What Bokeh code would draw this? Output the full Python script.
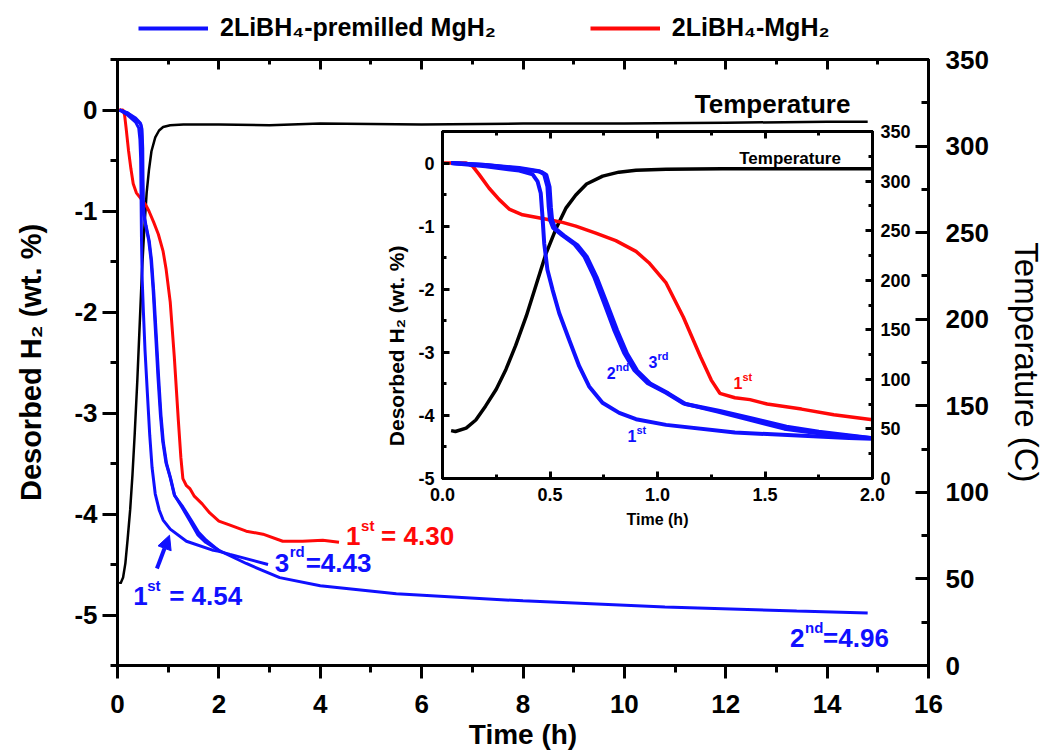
from bokeh.plotting import figure
from bokeh.models import (Range1d, LinearAxis, SingleIntervalTicker, Legend, LegendItem,
                          Label, Arrow, NormalHead, PrintfTickFormatter)
from bokeh.embed import file_html
from bokeh.resources import INLINE

# ---------------- data ----------------
# Temperature (C) vs time (h)
t_temp = [0.04, 0.06, 0.11, 0.155, 0.20, 0.25, 0.295, 0.34, 0.39, 0.435, 0.48, 0.53, 0.575,
          0.62, 0.67, 0.745, 0.82, 0.90, 1.04, 1.3, 2.0, 3.0, 4.0, 6.0, 8.0, 10.0, 12.0, 14.0, 14.8]
temp = [48.3, 47.4, 50.8, 59, 73, 90, 110, 134, 164, 195, 226, 253, 273,
        286, 297, 305, 309, 311, 312, 312.5, 312.5, 312, 313, 312.5, 313, 313, 313.5, 314, 314]

# 2LiBH4-MgH2, 1st cycle (red)
t_red = [0.0, 0.11, 0.14, 0.17, 0.217, 0.264, 0.31, 0.372, 0.434, 0.496, 0.558, 0.62, 0.713,
         0.806, 0.90, 0.96, 1.04, 1.12, 1.20, 1.25, 1.29, 1.36, 1.43, 1.51, 1.67, 1.82, 2.0,
         2.22, 2.54, 2.87, 3.26, 3.65, 4.05, 4.37]
h2_red = [0.0, 0.0, -0.05, -0.18, -0.40, -0.58, -0.73, -0.82, -0.86, -0.90, -0.94, -1.0, -1.11,
          -1.23, -1.40, -1.58, -1.90, -2.44, -3.07, -3.44, -3.65, -3.72, -3.75, -3.82, -3.90, -3.99, -4.07,
          -4.11, -4.17, -4.20, -4.27, -4.27, -4.26, -4.28]

# 2LiBH4-premilled MgH2, 1st cycle (blue)
t_b1 = [0.04, 0.2, 0.357, 0.419, 0.442, 0.457, 0.465, 0.473, 0.488, 0.512, 0.543, 0.589, 0.636,
        0.682, 0.744, 0.822, 0.90, 1.04, 1.36, 1.89, 2.0, 2.22, 2.97]
h2_b1 = [0.0, -0.05, -0.12, -0.18, -0.29, -0.48, -0.85, -1.27, -1.69, -2.01, -2.38, -2.80, -3.22,
         -3.54, -3.80, -3.96, -4.06, -4.15, -4.27, -4.36, -4.37, -4.40, -4.50]

# 2nd cycle (blue, long run)
t_b2 = [0.04, 0.2, 0.357, 0.45, 0.473, 0.488, 0.494, 0.50, 0.515, 0.555, 0.615, 0.66, 0.705,
        0.752, 0.798, 0.845, 0.892, 0.955, 1.04, 1.12, 1.28, 1.43, 1.59, 1.74, 2.0, 2.54, 3.2,
        4.0, 5.5, 8.0, 10.8, 13.4, 14.8]
h2_b2 = [0.0, -0.03, -0.08, -0.13, -0.18, -0.37, -0.69, -0.90, -1.03, -1.14, -1.29, -1.48, -1.80,
         -2.22, -2.64, -3.01, -3.28, -3.49, -3.64, -3.81, -3.94, -4.07, -4.21, -4.28, -4.36, -4.49, -4.63,
         -4.71, -4.79, -4.86, -4.92, -4.96, -4.98]

# 3rd cycle (blue)
t_b3 = [0.04, 0.2, 0.357, 0.46, 0.483, 0.498, 0.504, 0.51, 0.525, 0.565, 0.627, 0.672, 0.717,
        0.765, 0.812, 0.858, 0.905, 0.968, 1.05, 1.13, 1.29, 1.44, 1.60, 1.75, 2.02]
h2_b3 = [0.0, -0.03, -0.09, -0.14, -0.19, -0.38, -0.70, -0.91, -1.04, -1.15, -1.30, -1.49, -1.81,
         -2.23, -2.65, -3.02, -3.29, -3.50, -3.65, -3.82, -3.93, -4.05, -4.18, -4.26, -4.37]

legend_labels = ["2LiBH\u2084-premilled MgH\u2082", "2LiBH\u2084-MgH\u2082"]
h2_tick_labels = {0: "0", -1: "-1", -2: "-2", -3: "-3", -4: "-4", -5: "-5"}

FONT = "Liberation Sans"
BLUE = "#1010ff"
RED = "#ff0808"
NB = "\u00a0"


def style_axis(ax, label_px, mj_in, mj_out, mn_in, mn_out, standoff, lw=3):
    ax.axis_line_width = lw
    ax.axis_line_color = "black"
    ax.major_tick_line_width = lw
    ax.minor_tick_line_width = lw
    ax.major_tick_in = mj_in
    ax.major_tick_out = mj_out
    ax.minor_tick_in = mn_in
    ax.minor_tick_out = mn_out
    ax.major_label_text_font = FONT
    ax.major_label_text_font_style = "bold"
    ax.major_label_text_font_size = f"{label_px}px"
    ax.major_label_text_color = "black"
    ax.major_label_standoff = standoff
    ax.axis_label_text_font = FONT
    ax.axis_label_text_font_style = "bold"
    ax.axis_label_text_color = "black"


def rich(fig, x, y, parts, color, y_range_name="default"):
    for text, size, dx, dy in parts:
        fig.add_layout(Label(x=x, y=y, x_offset=dx, y_offset=dy, text=text,
                             text_font=FONT, text_font_style="bold",
                             text_font_size=f"{size}px", text_color=color,
                             text_baseline="middle", text_align="left",
                             y_range_name=y_range_name))


# ---------------- main figure ----------------
p = figure(width=1047, height=756, x_range=Range1d(0, 16), y_range=Range1d(-5.5, 0.5),
           output_backend="svg", toolbar_location=None,
           min_border_left=117, min_border_right=114, min_border_top=59, min_border_bottom=91)
p.extra_y_ranges = {"temp": Range1d(0, 350)}
p.xgrid.visible = False
p.ygrid.visible = False
p.outline_line_color = "black"
p.outline_line_width = 3
p.background_fill_color = "white"
p.border_fill_color = "white"

xa = p.xaxis[0]
xa.ticker = SingleIntervalTicker(interval=2, num_minor_ticks=2)
style_axis(xa, 26, 0, 13, 0, 7, 16)
xa.axis_label = "Time (h)"
xa.axis_label_text_font_size = "28px"
xa.axis_label_standoff = 3

ya = p.yaxis[0]
ya.ticker = SingleIntervalTicker(interval=1, num_minor_ticks=2)
style_axis(ya, 26, 0, 15, 0, 7, 5)
ya.major_label_overrides = h2_tick_labels
ya.axis_label = "Desorbed H\u2082 (wt. %)"
ya.axis_label_text_font_size = "29px"
ya.axis_label_standoff = 24

top = LinearAxis(ticker=SingleIntervalTicker(interval=2, num_minor_ticks=2))
style_axis(top, 1, 10, 0, 5, 0, 0)
top.major_label_text_color = None
p.add_layout(top, "above")

ra = LinearAxis(y_range_name="temp", ticker=SingleIntervalTicker(interval=50, num_minor_ticks=2))
style_axis(ra, 26, 13, 0, 7, 0, 17)
ra.axis_label = "Temperature (C)"
ra.axis_label_text_font_style = "normal"
ra.axis_label_text_font_size = "33px"
ra.axis_label_standoff = 16
p.add_layout(ra, "right")

p.line(t_temp, temp, y_range_name="temp", line_color="black", line_width=2.5)
p.line(t_red, h2_red, line_color=RED, line_width=3)
p.line(t_b1, h2_b1, line_color=BLUE, line_width=3)
p.line(t_b3, h2_b3, line_color=BLUE, line_width=3)
p.line(t_b2, h2_b2, line_color=BLUE, line_width=3)

rich(p, 11.39, 0.064, [("Temperature", 26, 0, 0)], "black")
rich(p, t_red[-1] + 0.14, -4.22, [("1", 26, 0, 0), ("st", 15, 15, 11), ("= 4.30", 26, 35, 0)], RED)
rich(p, 3.10, -4.485, [("3", 26, 0, 0), ("rd", 15, 15, 11), ("=4.43", 26, 31, 0)], BLUE)
rich(p, 0.31, -4.815, [("1", 26, 0, 0), ("st", 15, 14, 11), ("= 4.54", 26, 36, 0)], BLUE)
rich(p, 13.27, -5.23, [("2", 26, 0, 0), ("nd", 15, 15, 11), ("=4.96", 26, 33, 0)], BLUE)
p.add_layout(Arrow(end=NormalHead(size=14, fill_color=BLUE, line_color=BLUE),
                   x_start=0.778, y_start=-4.54, x_end=1.026, y_end=-4.21,
                   line_color=BLUE, line_width=4))

# ---------------- legend strip (separate root, laid over the top margin) ----------------
lg = figure(width=900, height=52, x_range=Range1d(0, 1), y_range=Range1d(10, 11),
            output_backend="svg", toolbar_location=None, min_border=0,
            x_axis_type=None, y_axis_type=None)
lg.xgrid.visible = False
lg.ygrid.visible = False
lg.outline_line_color = None
lg.background_fill_color = None
lg.border_fill_color = None
lg.styles = {"position": "absolute", "left": "0px", "top": "0px"}
lb = lg.line(t_b2, h2_b2, line_color=BLUE, line_width=4)
lr = lg.line(t_red, h2_red, line_color=RED, line_width=4)
legend = Legend(items=[LegendItem(label=legend_labels[0], renderers=[lb]),
                       LegendItem(label=legend_labels[1], renderers=[lr])],
                location=(138, 10), orientation="horizontal", glyph_width=70, glyph_height=20,
                label_standoff=12, spacing=94, padding=0, margin=0,
                border_line_color=None, background_fill_alpha=0,
                label_text_font=FONT, label_text_font_style="bold", label_text_font_size="25px",
                label_text_color="black")
lg.add_layout(legend)

# ---------------- inset ----------------
q = figure(width=547, height=417, x_range=Range1d(0, 2), y_range=Range1d(-5, 0.5),
           output_backend="svg", toolbar_location=None,
           min_border_left=72, min_border_right=45, min_border_top=13, min_border_bottom=57)
q.extra_y_ranges = {"temp": Range1d(0, 350)}
q.xgrid.visible = False
q.ygrid.visible = False
q.outline_line_color = "black"
q.outline_line_width = 3
q.background_fill_color = "white"
q.border_fill_color = None
q.styles = {"position": "absolute", "left": "370px", "top": "118px"}

qx = q.xaxis[0]
qx.ticker = SingleIntervalTicker(interval=0.5, num_minor_ticks=2)
qx.formatter = PrintfTickFormatter(format="%.1f")
style_axis(qx, 18, 7, 0, 4, 0, 9)
qx.axis_label = "Time (h)"
qx.axis_label_text_font_size = "16px"
qx.axis_label_standoff = 7

qy = q.yaxis[0]
qy.ticker = SingleIntervalTicker(interval=1, num_minor_ticks=2)
style_axis(qy, 18, 7, 0, 4, 0, 8)
qy.major_label_overrides = h2_tick_labels
qy.axis_label = "Desorbed H\u2082 (wt. %)" + NB * 14
qy.axis_label_text_font_size = "21px"
qy.axis_label_standoff = 7

qt = LinearAxis(ticker=SingleIntervalTicker(interval=0.5, num_minor_ticks=2))
style_axis(qt, 1, 7, 0, 4, 0, 0)
qt.major_label_text_color = None
q.add_layout(qt, "above")

qr = LinearAxis(y_range_name="temp", ticker=SingleIntervalTicker(interval=50, num_minor_ticks=2))
style_axis(qr, 18, 7, 0, 4, 0, 8)
q.add_layout(qr, "right")

q.line(t_temp, temp, y_range_name="temp", line_color="black", line_width=3.5)
q.line(t_red, h2_red, line_color=RED, line_width=3.5)
q.line(t_b1, h2_b1, line_color=BLUE, line_width=4)
q.line(t_b3, h2_b3, line_color=BLUE, line_width=4)
q.line(t_b2, h2_b2, line_color=BLUE, line_width=4)

rich(q, 1.38, 0.07, [("Temperature", 17, 0, 0)], "black")
rich(q, 0.764, -3.32, [("2", 16, 0, 0), ("nd", 11, 9, 6)], BLUE)
rich(q, 0.958, -3.15, [("3", 16, 0, 0), ("rd", 11, 9, 6)], BLUE)
rich(q, 1.353, -3.48, [("1", 16, 0, 0), ("st", 11, 9, 6)], RED)
rich(q, 0.86, -4.32, [("1", 16, 0, 0), ("st", 11, 9, 6)], BLUE)

open("out.html", "w").write(file_html([p, q, lg], INLINE))
